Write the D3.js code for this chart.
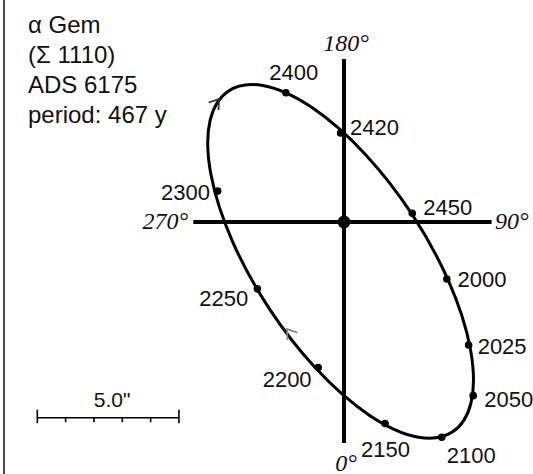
<!DOCTYPE html>
<html><head><meta charset="utf-8">
<script src="https://cdn.jsdelivr.net/npm/d3@7"></script>
<style>html,body{margin:0;padding:0;background:#fff}svg{display:block}</style>
</head><body>
<svg id="chart" width="533" height="474"></svg>
<script>
// ---- data (arcseconds; x toward 90°, y toward 180°) ----
const years   = [2000, 2025, 2050, 2100, 2150, 2200, 2250, 2300, 2400, 2420, 2450];
const xOffset = [3.63, 4.40, 4.56, 3.45, 1.45, -0.91, -3.06, -4.46, -2.05, -0.12, 2.41];
const yOffset = [-2.01, -4.34, -6.13, -7.60, -7.11, -5.14, -2.36, 1.09, 4.56, 3.14, 0.31];
const orbitCenter = [-0.12, -1.39];
const orbitAxes = [7.2, 3.02];     // apparent semi-major, semi-minor (arcsec)
const orbitTilt = 56.7;            // deg
const crossX = [-5.32, 5.21];
const crossY = [-7.8, 5.75];
const arrowX = [-4.41, -2.01];
const arrowY = [4.34, -3.78];
const angleLabels = ["0°", "90°", "180°", "270°"];
const scaleBarLength = 5;
const scaleBarLabel = '5.0"';
const titleLines = ["α Gem", "(Σ 1110)", "ADS 6175", "period: 467 y"];

// ---- layout ----
const W = 533, H = 474, cx = 344, cy = 222, k = 28.33;
const x = d3.scaleLinear().domain([0, 1]).range([cx, cx + k]);
const y = d3.scaleLinear().domain([0, 1]).range([cy, cy - k]);
const len = v => x(v) - x(0);
const svg = d3.select("#chart");
const sans = "'Liberation Sans', Arial, Helvetica, sans-serif";
const serif = "'Liberation Serif', 'Times New Roman', serif";

// left frame line
svg.append("line").attr("x1", 4).attr("x2", 4).attr("y1", 0).attr("y2", H)
  .attr("stroke", "#4a4a4a").attr("stroke-width", 2);

// crosshair
svg.append("line").attr("x1", x(0)).attr("x2", x(0)).attr("y1", y(crossY[1])).attr("y2", y(crossY[0]))
  .attr("stroke", "#000").attr("stroke-width", 4);
svg.append("line").attr("x1", x(crossX[0])).attr("x2", x(crossX[1])).attr("y1", y(0)).attr("y2", y(0))
  .attr("stroke", "#000").attr("stroke-width", 4);
svg.append("circle").attr("cx", x(0)).attr("cy", y(0)).attr("r", 6.5).attr("fill", "#000");

// orbit
const ecx = x(orbitCenter[0]), ecy = y(orbitCenter[1]);
svg.append("ellipse").attr("cx", ecx).attr("cy", ecy)
  .attr("rx", len(orbitAxes[0])).attr("ry", len(orbitAxes[1]))
  .attr("transform", `rotate(${orbitTilt} ${ecx} ${ecy})`)
  .attr("fill", "none").attr("stroke", "#000").attr("stroke-width", 3);

// direction arrows (tangent of the ellipse, clockwise on screen)
const phi = orbitTilt * Math.PI / 180, A = len(orbitAxes[0]), B = len(orbitAxes[1]);
arrowX.forEach((ax, i) => {
  const px = x(ax), py = y(arrowY[i]);
  const dx = px - ecx, dy = py - ecy;
  const u = dx * Math.cos(phi) + dy * Math.sin(phi);
  const v = -dx * Math.sin(phi) + dy * Math.cos(phi);
  const t = Math.atan2(v / B, u / A);
  const tu = -A * Math.sin(t), tv = B * Math.cos(t);
  const tx = tu * Math.cos(phi) - tv * Math.sin(phi);
  const ty = tu * Math.sin(phi) + tv * Math.cos(phi);
  const ang = Math.atan2(ty, tx);
  const L = 11, s = 0.6;
  const p1 = [px - L * Math.cos(ang - s), py - L * Math.sin(ang - s)];
  const p2 = [px - L * Math.cos(ang + s), py - L * Math.sin(ang + s)];
  svg.append("path").attr("d", d3.line()([p1, [px, py], p2]))
    .attr("fill", "none").attr("stroke", i === 0 ? "#333" : "#888").attr("stroke-width", 1.8);
});

// dated points
const labelPos = {
  2000: [10.6, 8.3, "start"], 2025: [9, 9.3, "start"], 2050: [11, 11, "start"],
  2100: [5, 26, "start"], 2150: [-24, 33.4, "start"], 2200: [-6.6, 19, "end"],
  2250: [-9, 17, "end"], 2300: [-7.7, 9, "end"], 2400: [-16.7, -12.7, "start"],
  2420: [9.5, 2, "start"], 2450: [11, 1.7, "start"]
};
years.forEach((yr, i) => {
  const px = x(xOffset[i]), py = y(yOffset[i]);
  svg.append("circle").attr("cx", px).attr("cy", py).attr("r", 3.8).attr("fill", "#000");
  const lp = labelPos[yr];
  svg.append("text").attr("x", px + lp[0]).attr("y", py + lp[1]).attr("text-anchor", lp[2])
    .attr("font-family", sans).attr("font-size", 22).attr("fill", "#111").text(yr);
});

// angle labels
const angPos = [[346, 470.5, "middle"], [495, 229, "start"], [346, 50.5, "middle"], [188, 228.5, "end"]];
angleLabels.forEach((t, i) => {
  svg.append("text").attr("x", angPos[i][0]).attr("y", angPos[i][1]).attr("text-anchor", angPos[i][2])
    .attr("font-family", serif).attr("font-style", "italic").attr("font-size", 24)
    .attr("fill", "#111").text(t);
});

// title block
titleLines.forEach((t, i) => {
  svg.append("text").attr("x", 28).attr("y", 33.3 + i * 30)
    .attr("font-family", sans).attr("font-size", 24).attr("fill", "#111").text(t);
});

// scale bar
const sb = svg.append("g").attr("transform", "translate(37.3,417.7)");
const sx = d3.scaleLinear().domain([0, scaleBarLength]).range([0, len(scaleBarLength)]);
sb.append("line").attr("x1", sx(0)).attr("x2", sx(scaleBarLength)).attr("y1", 0).attr("y2", 0)
  .attr("stroke", "#000").attr("stroke-width", 1.6);
d3.range(0, scaleBarLength + 1).forEach(d => {
  const end = d === 0 || d === scaleBarLength;
  sb.append("line").attr("x1", sx(d)).attr("x2", sx(d)).attr("y1", end ? -8 : 0).attr("y2", end ? 5.5 : 4.5)
    .attr("stroke", "#000").attr("stroke-width", 1.6);
});
sb.append("text").attr("x", sx(scaleBarLength / 2) + 4).attr("y", -10.7).attr("text-anchor", "middle")
  .attr("font-family", sans).attr("font-size", 21).attr("fill", "#111").text(scaleBarLabel);
</script>
</body></html>
